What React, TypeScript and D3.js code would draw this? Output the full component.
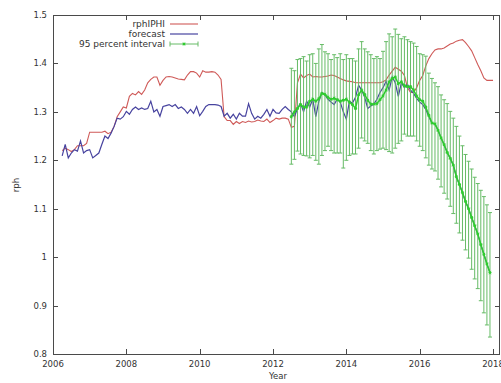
import React from 'react';
import * as d3 from 'd3';

const xTicks = [2006, 2008, 2010, 2012, 2014, 2016, 2018];
const yTicks = [0.8, 0.9, 1.0, 1.1, 1.2, 1.3, 1.4, 1.5];
const yTickLabels = ['0.8', '0.9', '1', '1.1', '1.2', '1.3', '1.4', '1.5'];
const seriesNames = ['rphIPHI', 'forecast', '95 percent interval'];

// monthly series, first value at the given decimal year
const rphStart = 2006.25;
const rphValues = [
  1.22, 1.225, 1.222, 1.218, 1.222, 1.23, 1.23, 1.23, 1.235, 1.258,
  1.258, 1.258, 1.258, 1.258, 1.26, 1.255, 1.258, 1.27, 1.29, 1.3,
  1.31, 1.308, 1.332, 1.338, 1.335, 1.342, 1.336, 1.345, 1.36, 1.367,
  1.372, 1.372, 1.355, 1.365, 1.372, 1.373, 1.372, 1.37, 1.368, 1.367,
  1.366, 1.376, 1.383, 1.383, 1.38, 1.372, 1.385, 1.382, 1.382, 1.383,
  1.382, 1.376, 1.367, 1.29, 1.282, 1.282, 1.274, 1.28, 1.276, 1.28,
  1.278, 1.281, 1.279, 1.28, 1.283, 1.281, 1.28, 1.285, 1.278, 1.282,
  1.287, 1.285, 1.287, 1.287, 1.285, 1.268, 1.27, 1.36, 1.378, 1.37,
  1.375, 1.378, 1.372, 1.373, 1.372, 1.372, 1.373, 1.374, 1.376, 1.375,
  1.372, 1.369, 1.366, 1.364, 1.363, 1.362, 1.36, 1.36, 1.36, 1.36,
  1.36, 1.36, 1.36, 1.36, 1.36, 1.362, 1.366, 1.376, 1.384, 1.392,
  1.388, 1.384, 1.375, 1.35, 1.34, 1.34, 1.35, 1.365, 1.375, 1.395,
  1.41, 1.42, 1.428, 1.43, 1.43, 1.432, 1.436, 1.44, 1.442, 1.446,
  1.448, 1.449, 1.443, 1.435, 1.426, 1.412, 1.398, 1.385, 1.37, 1.365,
  1.365, 1.365,
];

const forecastStart = 2006.25;
const forecastValues = [
  1.209, 1.233, 1.205, 1.215, 1.222, 1.219, 1.24, 1.215, 1.22, 1.222,
  1.205, 1.21, 1.215, 1.233, 1.25, 1.245, 1.256, 1.27, 1.287, 1.285,
  1.29, 1.301, 1.295, 1.305, 1.31, 1.305, 1.308, 1.305, 1.307, 1.322,
  1.3, 1.305, 1.291, 1.311, 1.313, 1.315, 1.311, 1.315, 1.307, 1.31,
  1.305, 1.297, 1.305, 1.297, 1.311, 1.292, 1.301, 1.311, 1.315, 1.315,
  1.315, 1.314, 1.311, 1.291, 1.297, 1.287, 1.295, 1.285, 1.297, 1.291,
  1.291, 1.317, 1.297, 1.285, 1.291, 1.287, 1.295, 1.305, 1.291, 1.305,
  1.298, 1.297, 1.305, 1.311, 1.305, 1.3, 1.29, 1.307, 1.318, 1.3,
  1.322, 1.31, 1.326, 1.29, 1.322, 1.34, 1.335, 1.326, 1.32, 1.315,
  1.326, 1.32, 1.3, 1.285, 1.322, 1.318, 1.33, 1.355, 1.345, 1.33,
  1.307, 1.312, 1.316, 1.326, 1.34, 1.35, 1.363, 1.345, 1.372, 1.36,
  1.332, 1.36, 1.35, 1.357, 1.345, 1.338, 1.328, 1.32, 1.315, 1.305,
  1.29, 1.277, 1.275, 1.262, 1.246, 1.232, 1.216, 1.204, 1.19, 1.166,
  1.15, 1.133, 1.115, 1.1, 1.082, 1.065, 1.048, 1.026, 1.006, 0.986,
  0.968,
];

const intervalStart = 2012.5;
const intervalMid = [
  1.29, 1.3, 1.307, 1.315, 1.31, 1.31, 1.322, 1.326, 1.322, 1.327,
  1.338, 1.336, 1.33, 1.326, 1.328, 1.325, 1.322, 1.324, 1.326, 1.32,
  1.315, 1.307, 1.335, 1.345, 1.336, 1.324, 1.316, 1.316, 1.317, 1.325,
  1.333, 1.345, 1.362, 1.369, 1.372, 1.358, 1.362, 1.354, 1.352, 1.352,
  1.345, 1.333, 1.325, 1.322, 1.31, 1.293, 1.277, 1.275, 1.262, 1.246,
  1.232, 1.216, 1.204, 1.19, 1.166, 1.15, 1.133, 1.115, 1.1, 1.082,
  1.065, 1.048, 1.026, 1.006, 0.986, 0.968,
];
const intervalHigh = [
  1.39, 1.385, 1.408, 1.41, 1.414, 1.405, 1.418, 1.42, 1.4, 1.43,
  1.439, 1.424, 1.42, 1.408, 1.418, 1.412, 1.42, 1.408, 1.418, 1.41,
  1.41, 1.405, 1.43, 1.445, 1.43, 1.424, 1.418, 1.41, 1.414, 1.41,
  1.425, 1.445, 1.461, 1.455, 1.471, 1.46, 1.451, 1.455, 1.449, 1.445,
  1.442, 1.435, 1.42, 1.418, 1.415, 1.38, 1.369, 1.36, 1.352, 1.335,
  1.325, 1.317, 1.301, 1.287, 1.27, 1.25, 1.23, 1.212, 1.198, 1.182,
  1.165, 1.152, 1.138, 1.125, 1.108, 1.092,
];
const intervalLow = [
  1.192, 1.202, 1.219, 1.213, 1.21, 1.209, 1.205, 1.21, 1.2, 1.192,
  1.21, 1.22, 1.229, 1.22, 1.215, 1.215, 1.215, 1.184, 1.2, 1.21,
  1.213, 1.213, 1.225, 1.246, 1.24, 1.235, 1.22, 1.213, 1.22, 1.223,
  1.225, 1.222, 1.218, 1.215, 1.225, 1.235, 1.24, 1.254, 1.25, 1.25,
  1.25, 1.24, 1.229, 1.22, 1.205, 1.19, 1.182, 1.178, 1.161, 1.145,
  1.132, 1.12, 1.105, 1.09, 1.07, 1.05, 1.035, 1.015, 0.998, 0.975,
  0.955, 0.935, 0.91, 0.885, 0.86, 0.835,
];

const W = 501;
const H = 383;
const RED = '#cf5a58';
const BLUE = '#47439f';
const GREEN = '#2fcc2f';
const BAR = '#66bb66';
const AXIS = '#4a4a4a';
const TEXT = '#333';
const FONT = '"DejaVu Sans", Verdana, sans-serif';

export default function App() {
  const x = d3.scaleLinear().domain([2006, 2018.19]).range([53, 500]);
  const y = d3.scaleLinear().domain([0.8, 1.5]).range([354, 15]);
  const [x0, x1] = x.range();
  const [y0, y1] = y.range();

  const toPts = (start: number, vals: number[]) =>
    vals.map((v, i) => [start + i / 12, v] as [number, number]);

  const line = d3
    .line<[number, number]>()
    .x((d) => x(d[0]))
    .y((d) => y(d[1]));

  const rph = toPts(rphStart, rphValues);
  const fc = toPts(forecastStart, forecastValues);
  const mid = toPts(intervalStart, intervalMid);

  const star = (cx: number, cy: number, r: number, key: string) => (
    <g key={key} stroke={GREEN} strokeWidth={1}>
      <line x1={cx - r} x2={cx + r} y1={cy} y2={cy} />
      <line x1={cx} x2={cx} y1={cy - r} y2={cy + r} />
      <line x1={cx - r * 0.75} x2={cx + r * 0.75} y1={cy - r * 0.75} y2={cy + r * 0.75} />
      <line x1={cx - r * 0.75} x2={cx + r * 0.75} y1={cy + r * 0.75} y2={cy - r * 0.75} />
    </g>
  );

  const legendRows = [24, 34, 44];
  const lx0 = 170;
  const lx1 = 198;

  return (
    <svg
      width={W}
      height={H}
      style={{ position: 'absolute', left: 0, top: 0, background: '#fff' }}
      fontFamily={FONT}
    >
      {/* data */}
      <path d={line(rph) || ''} fill="none" stroke={RED} strokeWidth={1.1} />
      <path d={line(fc) || ''} fill="none" stroke={BLUE} strokeWidth={1.2} />
      <g stroke={BAR} strokeWidth={1}>
        {mid.map((d, i) => {
          const cx = x(d[0]);
          const yl = y(intervalLow[i]);
          const yh = y(intervalHigh[i]);
          return (
            <g key={'b' + i}>
              <line x1={cx} x2={cx} y1={yl} y2={yh} />
              <line x1={cx - 2} x2={cx + 2} y1={yl} y2={yl} />
              <line x1={cx - 2} x2={cx + 2} y1={yh} y2={yh} />
            </g>
          );
        })}
      </g>
      <path d={line(mid) || ''} fill="none" stroke={GREEN} strokeWidth={1.5} />
      {mid.map((d, i) => star(x(d[0]), y(d[1]), 1.6, 'm' + i))}

      {/* border */}
      <rect
        x={x0 + 0.5}
        y={y1 + 0.5}
        width={x1 - x0 - 1}
        height={y0 - y1}
        fill="none"
        stroke={AXIS}
        strokeWidth={1}
      />
      {/* x ticks */}
      {xTicks.map((t) => {
        const px = Math.round(x(t)) + 0.5;
        return (
          <g key={'xt' + t}>
            <line x1={px} x2={px} y1={y0} y2={y0 - 5} stroke={AXIS} />
            <line x1={px} x2={px} y1={y1} y2={y1 + 5} stroke={AXIS} />
            <text x={x(t)} y={367} textAnchor="middle" fontSize={8.5} fill={TEXT}>
              {t}
            </text>
          </g>
        );
      })}
      {/* y ticks */}
      {yTicks.map((t, i) => {
        const py = Math.round(y(t)) + 0.5;
        return (
          <g key={'yt' + t}>
            <line x1={x0} x2={x0 + 5} y1={py} y2={py} stroke={AXIS} />
            <line x1={x1} x2={x1 - 5} y1={py} y2={py} stroke={AXIS} />
            <text
              x={47}
              y={y(t)}
              textAnchor="end"
              dominantBaseline="central"
              fontSize={8.5}
              fill={TEXT}
            >
              {yTickLabels[i]}
            </text>
          </g>
        );
      })}
      <text x={278} y={379} textAnchor="middle" fontSize={8.5} fill={TEXT}>
        Year
      </text>
      <text
        transform="translate(16,185) rotate(-90)"
        textAnchor="middle"
        dominantBaseline="central"
        fontSize={8.5}
        fill={TEXT}
      >
        rph
      </text>

      {/* legend */}
      {seriesNames.map((n, i) => (
        <text
          key={'lt' + i}
          x={165}
          y={legendRows[i]}
          textAnchor="end"
          dominantBaseline="central"
          fontSize={9}
          fill={TEXT}
        >
          {n}
        </text>
      ))}
      <line x1={lx0} x2={lx1} y1={legendRows[0]} y2={legendRows[0]} stroke={RED} strokeWidth={1.1} />
      <line x1={lx0} x2={lx1} y1={legendRows[1]} y2={legendRows[1]} stroke={BLUE} strokeWidth={1.2} />
      <g stroke={BAR}>
        <line x1={lx0} x2={lx1} y1={legendRows[2]} y2={legendRows[2]} />
        <line x1={lx0} x2={lx0} y1={legendRows[2] - 2.5} y2={legendRows[2] + 2.5} />
        <line x1={lx1} x2={lx1} y1={legendRows[2] - 2.5} y2={legendRows[2] + 2.5} />
      </g>
      {star((lx0 + lx1) / 2, legendRows[2], 1.6, 'legstar')}
    </svg>
  );
}
